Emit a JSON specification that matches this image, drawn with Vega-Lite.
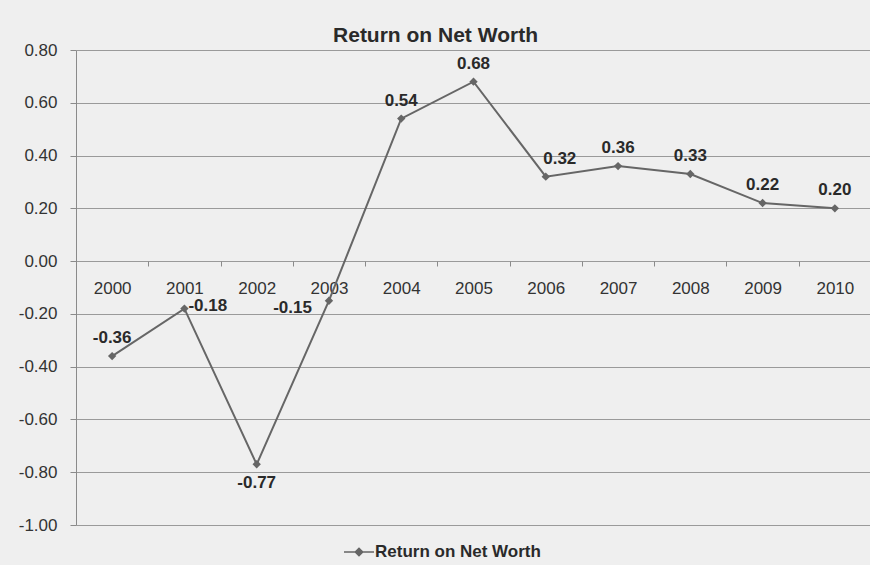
{
  "$schema": "https://vega.github.io/schema/vega-lite/v6.json",
  "width": 795,
  "height": 475,
  "autosize": "none",
  "padding": {"left": 76, "top": 50, "right": 0, "bottom": 40},
  "background": "#efefef",
  "title": {
    "text": "Return on Net Worth",
    "font": "Liberation Sans",
    "fontSize": 21,
    "fontWeight": "bold",
    "color": "#2a2a2a",
    "baseline": "alphabetic",
    "offset": -22,
    "dx": -38
  },
  "config": {
    "view": {"stroke": null},
    "font": "Liberation Sans",
    "locale": {
      "number": {"decimal": ".", "thousands": ",", "grouping": [3], "currency": ["$", ""], "minus": "-"}
    }
  },
  "data": {
    "values": [
      {"year": "2000", "value": -0.36},
      {"year": "2001", "value": -0.18},
      {"year": "2002", "value": -0.77},
      {"year": "2003", "value": -0.15},
      {"year": "2004", "value": 0.54},
      {"year": "2005", "value": 0.68},
      {"year": "2006", "value": 0.32},
      {"year": "2007", "value": 0.36},
      {"year": "2008", "value": 0.33},
      {"year": "2009", "value": 0.22},
      {"year": "2010", "value": 0.20}
    ]
  },
  "encoding": {
    "x": {
      "field": "year",
      "type": "nominal",
      "sort": null,
      "scale": {"paddingInner": 0, "paddingOuter": 0},
      "axis": {
        "title": null,
        "orient": "bottom",
        "offset": -264,
        "domain": false,
        "ticks": true,
        "tickBand": "extent",
        "tickSize": 5,
        "tickColor": "#8a8a8a",
        "labelAngle": 0,
        "labelFont": "Liberation Sans",
        "labelFontSize": 17,
        "labelColor": "#333333",
        "labelPadding": 14,
        "grid": false
      }
    },
    "y": {
      "field": "value",
      "type": "quantitative",
      "scale": {"domain": [-1, 0.8], "nice": false, "zero": false},
      "axis": {
        "title": null,
        "values": [-1, -0.8, -0.6, -0.4, -0.2, 0, 0.2, 0.4, 0.6, 0.8],
        "format": ".2f",
        "domain": true,
        "domainColor": "#8a8a8a",
        "tickSize": 6,
        "tickColor": "#8a8a8a",
        "grid": true,
        "gridColor": "#9a9a9a",
        "gridWidth": 1,
        "labelFont": "Liberation Sans",
        "labelFontSize": 17,
        "labelColor": "#333333",
        "labelPadding": 13
      }
    }
  },
  "layer": [
    {
      "mark": {
        "type": "line",
        "strokeWidth": 2,
        "point": {"shape": "diamond", "size": 70, "filled": true}
      },
      "encoding": {
        "color": {
          "datum": "Return on Net Worth",
          "type": "nominal",
          "scale": {"range": ["#666666"]},
          "legend": {
            "title": null,
            "orient": "none",
            "legendX": 267,
            "legendY": 486,
            "direction": "horizontal",
            "labelFont": "Liberation Sans",
            "labelFontSize": 17,
            "labelFontWeight": "bold",
            "labelColor": "#2a2a2a",
            "labelOffset": 0,
            "labelLimit": 400,
            "symbolType": "M-1,0L1,0M-0.25,0L0,-0.25L0.25,0L0,0.25Z",
            "symbolSize": 900,
            "symbolStrokeWidth": 1.5,
            "symbolFillColor": "#666666",
            "symbolStrokeColor": "#666666"
          }
        }
      }
    },
    {
      "transform": [{"filter": {"field": "year", "oneOf": ["2000", "2004", "2005", "2007", "2008", "2009", "2010"]}}],
      "mark": {"type": "text", "font": "Liberation Sans", "fontSize": 17, "fontWeight": "bold", "color": "#2a2a2a", "dy": -18, "align": "center", "baseline": "middle"},
      "encoding": {"text": {"field": "value", "format": ".2f"}}
    },
    {
      "transform": [{"filter": {"field": "year", "equal": "2006"}}],
      "mark": {"type": "text", "font": "Liberation Sans", "fontSize": 17, "fontWeight": "bold", "color": "#2a2a2a", "dx": 14, "dy": -18, "align": "center", "baseline": "middle"},
      "encoding": {"text": {"field": "value", "format": ".2f"}}
    },
    {
      "transform": [{"filter": {"field": "year", "equal": "2001"}}],
      "mark": {"type": "text", "font": "Liberation Sans", "fontSize": 17, "fontWeight": "bold", "color": "#2a2a2a", "dx": 4, "dy": -3, "align": "left", "baseline": "middle"},
      "encoding": {"text": {"field": "value", "format": ".2f"}}
    },
    {
      "transform": [{"filter": {"field": "year", "equal": "2003"}}],
      "mark": {"type": "text", "font": "Liberation Sans", "fontSize": 17, "fontWeight": "bold", "color": "#2a2a2a", "dx": -17, "dy": 7, "align": "right", "baseline": "middle"},
      "encoding": {"text": {"field": "value", "format": ".2f"}}
    },
    {
      "transform": [{"filter": {"field": "year", "equal": "2002"}}],
      "mark": {"type": "text", "font": "Liberation Sans", "fontSize": 17, "fontWeight": "bold", "color": "#2a2a2a", "dy": 19, "align": "center", "baseline": "middle"},
      "encoding": {"text": {"field": "value", "format": ".2f"}}
    }
  ]
}
